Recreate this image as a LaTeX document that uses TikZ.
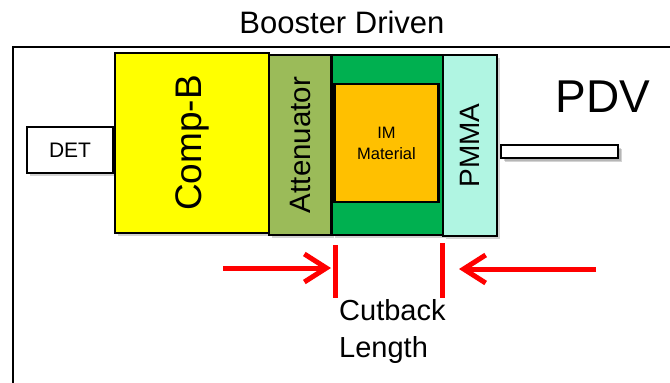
\documentclass[tikz,border=0pt]{standalone}
\usepackage{fontspec}
\setmainfont{Liberation Sans}
\usetikzlibrary{arrows.meta,shadows}
\definecolor{compb}{HTML}{FFFF00}
\definecolor{atten}{HTML}{9BBB59}
\definecolor{ggreen}{HTML}{00B050}
\definecolor{imorange}{HTML}{FFC000}
\definecolor{pmma}{HTML}{B0F5E2}
\definecolor{cutred}{HTML}{FF0000}
\tikzset{
  box/.style={draw=black, line width=2.6pt, inner sep=0pt, rectangle,
    drop shadow={shadow xshift=3pt, shadow yshift=-3pt, opacity=0.35}},
  plainbox/.style={draw=black, line width=2.6pt, inner sep=0pt, rectangle},
  redline/.style={draw=cutred, line width=5pt},
  redarrow/.style={draw=cutred, line width=5pt, -{Straight Barb[length=22pt, width=28pt]}}
}
\begin{document}
\begin{tikzpicture}[x=1pt, y=-1pt]
\useasboundingbox (0,0) rectangle (670,383);
% frame
\draw[line width=1.8pt] (13,400) -- (13,47) -- (690,47);
% title
\node[font=\fontsize{31}{36}\selectfont] (title) at (342,22) {Booster Driven};
% DET
\node[box, fill=white, minimum width=86pt, minimum height=46pt, font=\fontsize{21}{24}\selectfont] (det) at (70,150) {DET};
% Comp-B
\node[box, fill=compb, rotate=90, minimum width=180pt, minimum height=154pt, font=\fontsize{37}{40}\selectfont] (compb) at (192,143) {Comp-B};
% Attenuator
\node[box, fill=atten, rotate=90, minimum width=180pt, minimum height=62pt, font=\fontsize{29.5}{32}\selectfont] (att) at (300,145) {Attenuator};
% green holder
\node[box, fill=ggreen, minimum width=111pt, minimum height=180pt] (holder) at (387.5,145) {};
% IM material
\node[plainbox, fill=imorange, minimum width=104pt, minimum height=118pt, align=center, font=\fontsize{16.5}{21}\selectfont] (im) at (386.5,143) {IM\\Material};
% PMMA
\node[box, fill=pmma, rotate=90, minimum width=181pt, minimum height=54pt, font=\fontsize{28}{30}\selectfont] (pmma) at (470,145.5) {PMMA};
% fiber
\node[box, fill=white, line width=2pt, minimum width=117pt, minimum height=13pt,
  drop shadow={shadow xshift=4pt, shadow yshift=-4pt, opacity=0.35}] (fiber) at (559.5,151.5) {};
\node[font=\fontsize{46}{50}\selectfont] (pdv) at (603,97) {PDV};
% cutback markers
\coordinate (cl1) at (335.5,245);
\coordinate (cl2) at (335.5,298);
\coordinate (cr1) at (442,243);
\coordinate (cr2) at (442,298);
\draw[redline] (cl1) -- (cl2);
\draw[redline] (cr1) -- (cr2);
\coordinate (la0) at (223,268);
\coordinate (la1) at (331,268);
\coordinate (ra0) at (596,269);
\coordinate (ra1) at (459,269);
\draw[redarrow] (la0) -- (la1);
\draw[redarrow] (ra0) -- (ra1);
% label
\node[anchor=north west, align=left, inner sep=0pt, font=\fontsize{29}{37}\selectfont] (cut) at (339,299) {Cutback\\Length};
\end{tikzpicture}
\end{document}
